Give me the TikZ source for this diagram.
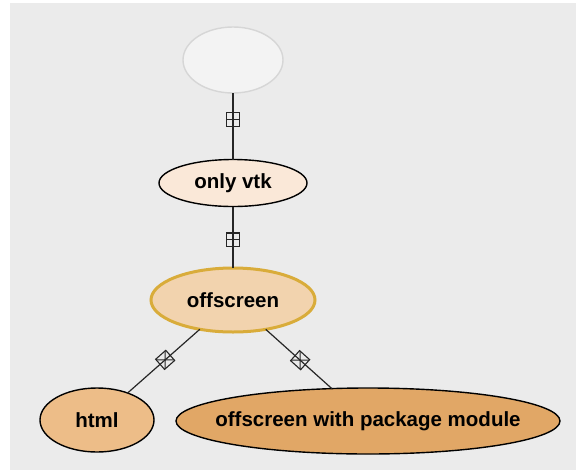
\documentclass[tikz,border=0pt]{standalone}
\usepackage{fontspec}
\setmainfont{Liberation Sans}
\usetikzlibrary{shapes.geometric}
\definecolor{paper}{HTML}{EBEBEB}
\definecolor{rootfill}{HTML}{F3F3F3}
\definecolor{rootline}{HTML}{D6D6D6}
\definecolor{vtkfill}{HTML}{FAE8D8}
\definecolor{offfill}{HTML}{F2D3AE}
\definecolor{offline}{HTML}{D9AC3A}
\definecolor{htmlfill}{HTML}{EDBD88}
\definecolor{pkgfill}{HTML}{E1A766}
\newcommand{\tag}[1]{\makebox[0pt]{#1}}

\begin{document}
\begin{tikzpicture}[x=1pt, y=-1pt,
    blob/.style={ellipse, draw=black, line width=1.4pt, inner sep=0pt, outer sep=0pt,
      font=\fontsize{20.5}{24}\selectfont\bfseries},
    link/.style={draw=black!85, line width=1.2pt},
    plusbox/.style={draw=black!85, line width=1.1pt, minimum size=13.5pt, inner sep=0pt, sloped,
      path picture={\draw[black!85, line width=1.1pt]
        (path picture bounding box.north) -- (path picture bounding box.south)
        (path picture bounding box.west) -- (path picture bounding box.east);}}]
    % textured paper backdrop
    \useasboundingbox (0,0) rectangle (576,472);
    \fill[paper] (10,3) rectangle (576,470);
    % the nodes
    \node[blob, draw=rootline, fill=rootfill, minimum width=100pt, minimum height=66pt] (root) at (233,60) {};
    \node[blob, fill=vtkfill, minimum width=148pt, minimum height=47pt] (vtk) at (233,183) {\tag{only vtk}};
    \node[blob, draw=offline, line width=3pt, fill=offfill, minimum width=164pt, minimum height=64pt] (off) at (233,300) {\tag{offscreen}};
    \node[blob, fill=htmlfill, minimum width=114pt, minimum height=64pt] (html) at (97,420) {\tag{html}};
    \node[blob, fill=pkgfill, minimum width=384pt, minimum height=66pt] (pkg) at (368,421) {\tag{offscreen with package module}};
    % links with their markers
    \foreach \a/\b/\p in {root/vtk/0.40, vtk/off/0.54, off/html/0.48, off/pkg/0.52} {
      \draw[link] (\a) -- node[pos=\p, plusbox] {} (\b);
    }
\end{tikzpicture}
\end{document}
